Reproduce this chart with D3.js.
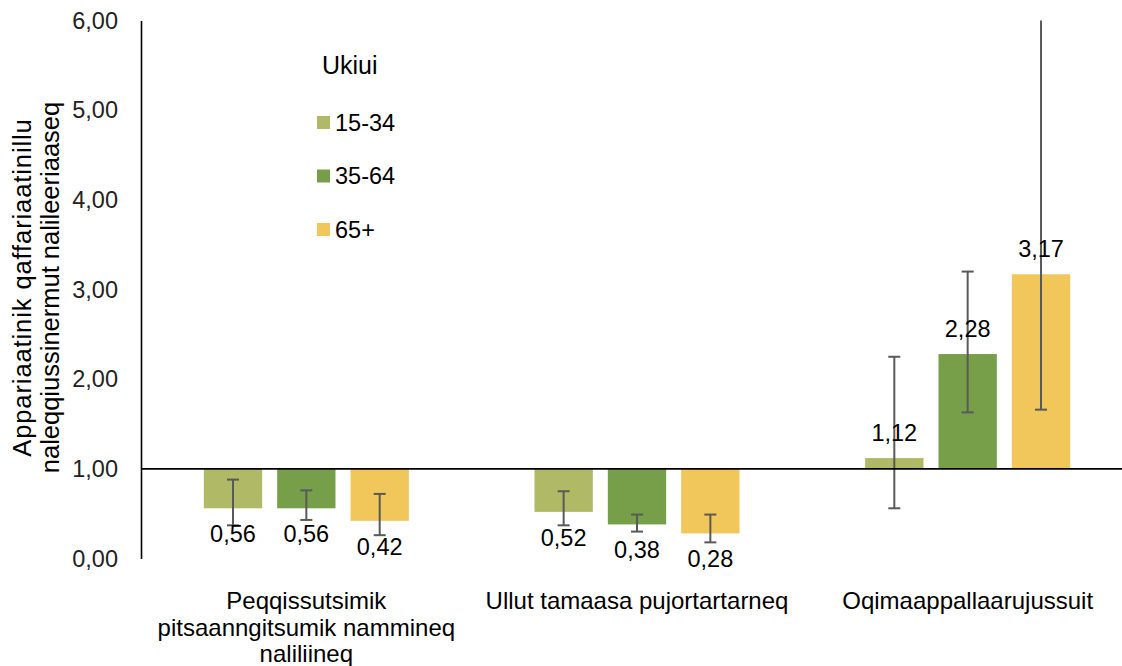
<!DOCTYPE html>
<html>
<head>
<meta charset="utf-8">
<script src="https://cdn.jsdelivr.net/npm/d3@7"></script>
<style>
  html, body { margin: 0; padding: 0; background: #fff; }
  svg { display: block; font-family: "Liberation Sans", Arial, sans-serif; }
</style>
</head>
<body>
<svg id="chart" width="1122" height="666"></svg>
<script>
// ---- data ----
const categories = [
  ["Peqqissutsimik", "pitsaanngitsumik nammineq", "naliliineq"],
  ["Ullut tamaasa pujortartarneq"],
  ["Oqimaappallaarujussuit"]
];
const seriesNames = ["15-34", "35-64", "65+"];
const values15_34 = [0.56, 0.52, 1.12];
const values35_64 = [0.56, 0.38, 2.28];
const values65 = [0.42, 0.28, 3.17];
const lower15_34 = [0.37, 0.37, 0.56];
const upper15_34 = [0.88, 0.75, 2.25];
const lower35_64 = [0.43, 0.30, 1.63];
const upper35_64 = [0.76, 0.49, 3.20];
const lower65 = [0.26, 0.18, 1.66];
const upper65 = [0.72, 0.49, 7.00];
const yTicks = [0, 1, 2, 3, 4, 5, 6];
const yTitle = ["Appariaatinik qaffariaatinillu", "naleqqiussinermut nalileeriaaseq"];
const legendTitle = "Ukiui";
const colors = ["#AFB966", "#779F4A", "#F1C65B"];

const series = [
  { name: seriesNames[0], values: values15_34, lo: lower15_34, hi: upper15_34 },
  { name: seriesNames[1], values: values35_64, lo: lower35_64, hi: upper35_64 },
  { name: seriesNames[2], values: values65, lo: lower65, hi: upper65 }
];

// ---- layout ----
const svg = d3.select("#chart");
const yTop = 20.5, yBottom = 558.5, xLeft = 141, xRight = 1133;
const fmt = v => d3.format(".2f")(v).replace(".", ",");

const y = d3.scaleLinear().domain([0, 6]).range([yBottom, yTop]);
const x0 = d3.scaleBand().domain(d3.range(categories.length)).range([xLeft, xRight]).paddingInner(0.38).paddingOuter(0.19);
const x1 = d3.scaleBand().domain(d3.range(series.length)).range([0, x0.bandwidth()]).paddingInner(0.205).paddingOuter(0);

// bars
const groups = svg.append("g").selectAll("g")
  .data(categories).join("g")
  .attr("transform", (d, i) => `translate(${x0(i)},0)`);

groups.each(function(cat, ci) {
  const g = d3.select(this);
  series.forEach((s, si) => {
    const v = s.values[ci];
    const bx = x1(si), bw = x1.bandwidth();
    g.append("rect")
      .attr("x", bx).attr("width", bw)
      .attr("y", Math.min(y(v), y(1)))
      .attr("height", Math.abs(y(v) - y(1)))
      .attr("fill", colors[si]);
  });
});

// baseline (x axis at 1.00)
svg.append("line")
  .attr("x1", xLeft).attr("x2", 1122)
  .attr("y1", y(1)).attr("y2", y(1))
  .attr("stroke", "#000").attr("stroke-width", 1.6);

// error bars
groups.each(function(cat, ci) {
  const g = d3.select(this);
  series.forEach((s, si) => {
    const cx = x1(si) + x1.bandwidth() / 2;
    const lo = s.lo[ci], hi = s.hi[ci];
    const yHi = Math.max(y(hi), yTop);
    g.append("line").attr("x1", cx).attr("x2", cx)
      .attr("y1", y(lo)).attr("y2", yHi)
      .attr("stroke", "#595959").attr("stroke-width", 2);
    g.append("line").attr("x1", cx - 6).attr("x2", cx + 6)
      .attr("y1", y(lo)).attr("y2", y(lo))
      .attr("stroke", "#595959").attr("stroke-width", 2);
    if (y(hi) >= yTop) {
      g.append("line").attr("x1", cx - 6).attr("x2", cx + 6)
        .attr("y1", y(hi)).attr("y2", y(hi))
        .attr("stroke", "#595959").attr("stroke-width", 2);
    }
  });
});

// value labels
groups.each(function(cat, ci) {
  const g = d3.select(this);
  series.forEach((s, si) => {
    const v = s.values[ci];
    const cx = x1(si) + x1.bandwidth() / 2;
    const ly = v >= 1 ? y(v) - 17 : y(v) + 34;
    g.append("text")
      .attr("x", cx).attr("y", ly)
      .attr("text-anchor", "middle")
      .attr("font-size", 23.5).attr("fill", "#000")
      .text(fmt(v));
  });
});

// y axis
const yAxis = d3.axisLeft(y).tickValues(yTicks).tickFormat(fmt).tickSize(0).tickPadding(23);
const ga = svg.append("g").attr("transform", `translate(${xLeft},0)`).call(yAxis);
ga.select(".domain").attr("stroke", "#000").attr("stroke-width", 1.6);
ga.selectAll("text").attr("font-size", 23.5).attr("fill", "#222")
  .attr("font-family", "Liberation Sans, Arial, sans-serif");

// y title
const yt = svg.append("text")
  .attr("transform", `translate(31,${(yTop + yBottom) / 2 - 2}) rotate(-90)`)
  .attr("text-anchor", "middle").attr("font-size", 25.5).attr("fill", "#000");
yTitle.forEach((t, i) => {
  const sp = yt.append("tspan").attr("x", 0).attr("dy", i === 0 ? 0 : 28).text(t);
  if (i === 0) sp.attr("letter-spacing", 0.9);
});

// category labels
groups.each(function(cat, ci) {
  const g = d3.select(this);
  const t = g.append("text")
    .attr("x", x0.bandwidth() / 2).attr("y", 609)
    .attr("text-anchor", "middle").attr("font-size", 24).attr("fill", "#000");
  cat.forEach((line, li) => {
    t.append("tspan").attr("x", x0.bandwidth() / 2)
      .attr("dy", li === 0 ? 0 : 26.5).text(line);
  });
});

// legend
const lg = svg.append("g");
lg.append("text").attr("x", 322).attr("y", 73.5)
  .attr("font-size", 25).attr("fill", "#000").text(legendTitle);
seriesNames.forEach((n, i) => {
  const cy = 122.5 + i * 53.5;
  lg.append("rect").attr("x", 317).attr("y", cy - 6.5).attr("width", 13).attr("height", 13).attr("fill", colors[i]);
  lg.append("text").attr("x", 335).attr("y", cy + 8.3)
    .attr("font-size", 23.5).attr("fill", "#000").text(n);
});
</script>
</body>
</html>
